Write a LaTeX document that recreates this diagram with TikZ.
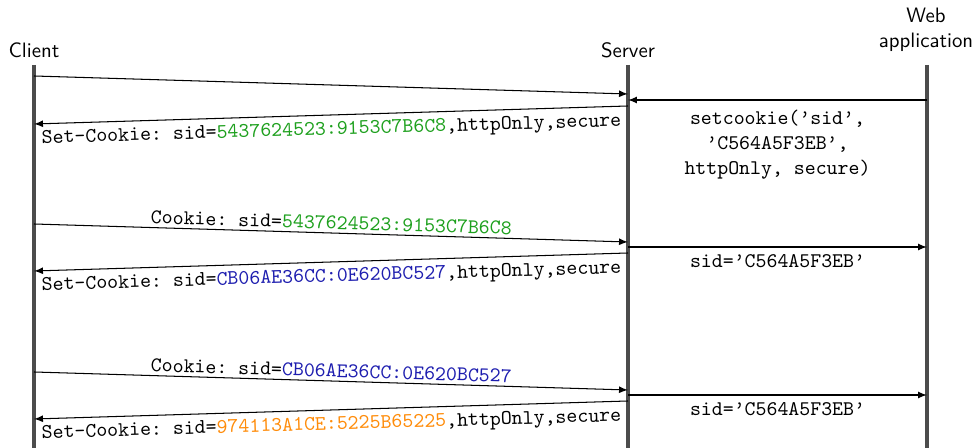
\documentclass[tikz,border=0pt]{standalone}
\usetikzlibrary{arrows}

\definecolor{sidgreen}{RGB}{30,160,30}
\definecolor{sidblue}{RGB}{30,30,175}
\definecolor{sidorange}{RGB}{255,140,10}

\begin{document}
\begin{tikzpicture}[x=0.48pt,y=-0.48pt,
 actor/.style={font=\sffamily,align=center},
 lifeline/.style={line width=1.8pt,draw=black!70},
 msg/.style={-latex,line width=0.5pt},
 code/.style={font=\ttfamily\frenchspacing,align=center,inner sep=1.5pt}]

  \useasboundingbox (0,0) rectangle (975,448);

  \node[actor] (client) at (34,50) {Client};
  \node[actor] (server) at (628,50) {Server};
  \node[actor] (webapp) at (926,30) {Web\\application};

  % lifelines
  \foreach \a/\x in {client/34, server/628, webapp/927} {
    \coordinate (\a top) at (\x,65);
    \coordinate (\a bot) at (\x,448);
    \draw[lifeline] (\a top) -- (\a bot);}

  % message end points
  \foreach \n/\x/\y in {c1/34/76, s1/628/94, w2/927/100, s2/628/100, s3/628/106, c3/34/124,
    c4/34/224, s4/628/242, s5/628/247, w5/927/247, s6/628/253, c6/34/271,
    c7/34/372, s7/628/390, s8/628/395, w8/927/395, s9/628/401, c9/34/419}
    \coordinate (\n) at (\x,\y);

  \draw[msg] (c1) -- (s1);
  \draw[msg] (w2) -- node[code,below=3pt] {setcookie(’sid’,\\’C564A5F3EB’,\\httpOnly, secure)} (s2);
  \draw[msg] (s3) -- node[code,sloped,below=1.5pt] {Set-Cookie: sid=\textcolor{sidgreen}{5437624523:9153C7B6C8},httpOnly,secure} (c3);

  \draw[msg] (c4) -- node[code,sloped,above] {Cookie: sid=\textcolor{sidgreen}{5437624523:9153C7B6C8}} (s4);
  \draw[msg] (s5) -- node[code,below=2pt] {sid=’C564A5F3EB’} (w5);
  \draw[msg] (s6) -- node[code,sloped,below=1.5pt] {Set-Cookie: sid=\textcolor{sidblue}{CB06AE36CC:0E620BC527},httpOnly,secure} (c6);

  \draw[msg] (c7) -- node[code,sloped,above] {Cookie: sid=\textcolor{sidblue}{CB06AE36CC:0E620BC527}} (s7);
  \draw[msg] (s8) -- node[code,below=2pt] {sid=’C564A5F3EB’} (w8);
  \draw[msg] (s9) -- node[code,sloped,below=1.5pt] {Set-Cookie: sid=\textcolor{sidorange}{974113A1CE:5225B65225},httpOnly,secure} (c9);
\end{tikzpicture}
\end{document}
